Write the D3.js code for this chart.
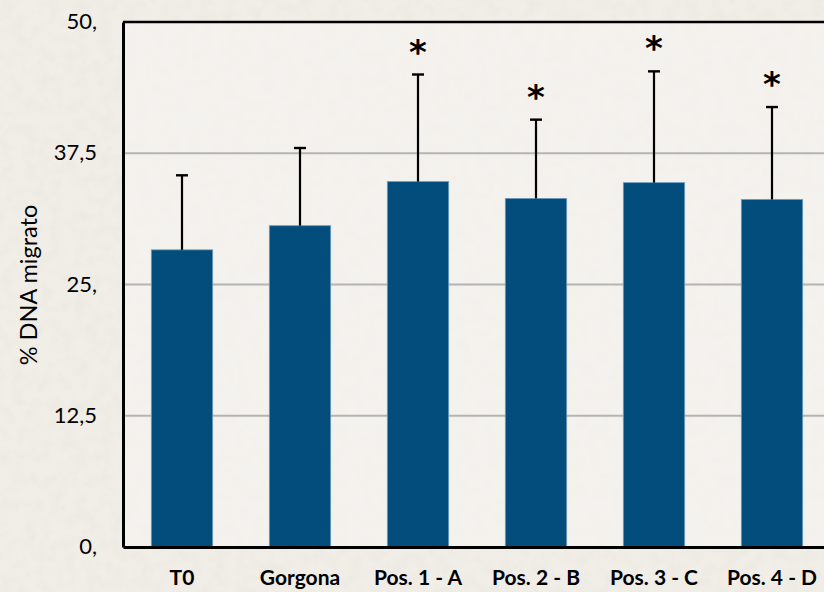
<!DOCTYPE html>
<html>
<head>
<meta charset="utf-8">
<script src="https://cdn.jsdelivr.net/npm/d3@7"></script>
<style>
  html, body { margin: 0; padding: 0; background: #f2efe9; }
  svg { display: block; }
</style>
</head>
<body>
<svg id="chart" width="824" height="592"></svg>
<script>
// Mean % of migrated DNA per sampling site, with standard deviation
const categories = ["T0", "Gorgona", "Pos. 1 - A", "Pos. 2 - B", "Pos. 3 - C", "Pos. 4 - D"];
const means      = [28.3, 30.6, 34.8, 33.2, 34.7, 33.1];
const sds        = [7.1, 7.4, 10.2, 7.5, 10.6, 8.8];
const significant = [false, false, true, true, true, true];
const yTicks      = [0, 12.5, 25, 37.5, 50];
const yTickLabels = ["0,", "12,5", "25,", "37,5", "50,"];
const yTitle = "% DNA migrato";

const svg = d3.select("#chart");
const W = 824, H = 592;
const margin = { left: 123, top: 22, right: -7, bottom: 45 };
const plotW = W - margin.left - margin.right;
const plotH = H - margin.top - margin.bottom;

// paper-like background texture
const defs = svg.append("defs");
const f = defs.append("filter").attr("id", "paper").attr("x", 0).attr("y", 0).attr("width", "100%").attr("height", "100%");
f.append("feTurbulence").attr("type", "fractalNoise").attr("baseFrequency", 0.08).attr("numOctaves", 3).attr("seed", 4).attr("result", "noise");
f.append("feColorMatrix").attr("type", "matrix")
  .attr("values", "0 0 0 0 0.55  0 0 0 0 0.52  0 0 0 0 0.47  0 0 0 -1.6 1.0");
svg.append("rect").attr("width", W).attr("height", H).attr("fill", "#f1eee8");
svg.append("rect").attr("width", W).attr("height", H).attr("filter", "url(#paper)").attr("opacity", 0.12);

const g = svg.append("g").attr("transform", `translate(${margin.left},${margin.top})`);

const x = d3.scaleBand().domain(categories).range([0, plotW]).paddingInner(0.48).paddingOuter(0.24);
const y = d3.scaleLinear().domain([0, 50]).range([plotH, 0]);

// plot area background
g.append("rect").attr("width", plotW).attr("height", plotH).attr("fill", "#f7f5f1").attr("opacity", 0.6);

// horizontal gridlines
g.append("g").selectAll("line").data(yTicks.filter(t => t > 0 && t < 50)).join("line")
  .attr("x1", 0).attr("x2", plotW)
  .attr("y1", d => y(d)).attr("y2", d => y(d))
  .attr("stroke", "#b4b4b4").attr("stroke-width", 2.2);

// bars
g.append("g").selectAll("rect").data(categories).join("rect")
  .attr("x", d => x(d))
  .attr("width", x.bandwidth())
  .attr("y", (d, i) => y(means[i]))
  .attr("height", (d, i) => plotH - y(means[i]))
  .attr("fill", "#034d7d")
  .attr("stroke", "#6e9bbd").attr("stroke-width", 0.8);

// error bars (upper only)
const eb = g.append("g").selectAll("g").data(categories).join("g")
  .attr("transform", d => `translate(${x(d) + x.bandwidth() / 2},0)`);
eb.append("line")
  .attr("x1", 0).attr("x2", 0)
  .attr("y1", (d, i) => y(means[i]))
  .attr("y2", (d, i) => y(means[i] + sds[i]))
  .attr("stroke", "#000").attr("stroke-width", 2.2);
eb.append("line")
  .attr("x1", -6).attr("x2", 6)
  .attr("y1", (d, i) => y(means[i] + sds[i]))
  .attr("y2", (d, i) => y(means[i] + sds[i]))
  .attr("stroke", "#000").attr("stroke-width", 2.4);

// significance markers
eb.filter((d, i) => significant[i]).append("text")
  .attr("y", d => { const i = categories.indexOf(d); return y(means[i] + sds[i]) - 11; })
  .attr("text-anchor", "middle")
  .attr("font-family", "DejaVu Sans, sans-serif")
  .attr("font-weight", "bold")
  .attr("font-size", 34)
  .attr("fill", "#000")
  .text("*");

// frame: top border and right edge
g.append("line").attr("x1", 0).attr("x2", plotW).attr("y1", 0).attr("y2", 0)
  .attr("stroke", "#000").attr("stroke-width", 2.5);
g.append("line").attr("x1", plotW).attr("x2", plotW).attr("y1", 0).attr("y2", plotH)
  .attr("stroke", "#000").attr("stroke-width", 2.5);

const yAxis = d3.axisLeft(y).tickValues(yTicks).tickSize(0).tickPadding(26)
  .tickFormat((d, i) => yTickLabels[i]);
const ya = g.append("g").call(yAxis);
ya.select(".domain").attr("stroke", "#000").attr("stroke-width", 3);
ya.selectAll("text").attr("font-family", "Lato, sans-serif").attr("font-size", 22).attr("fill", "#000")
  .attr("dy", "0.3em");

const xAxis = d3.axisBottom(x).tickSize(0).tickPadding(23);
const xa = g.append("g").attr("transform", `translate(0,${plotH})`).call(xAxis);
xa.select(".domain").attr("stroke", "#000").attr("stroke-width", 3);
xa.selectAll("text").attr("font-family", "Lato, sans-serif").attr("font-weight", "bold")
  .attr("font-size", 21).attr("fill", "#000");

// y-axis title
svg.append("text")
  .attr("transform", `translate(37,285) rotate(-90)`)
  .attr("text-anchor", "middle")
  .attr("font-family", "Lato, sans-serif")
  .attr("font-size", 23.5)
  .attr("fill", "#000")
  .text(yTitle);
</script>
</body>
</html>
